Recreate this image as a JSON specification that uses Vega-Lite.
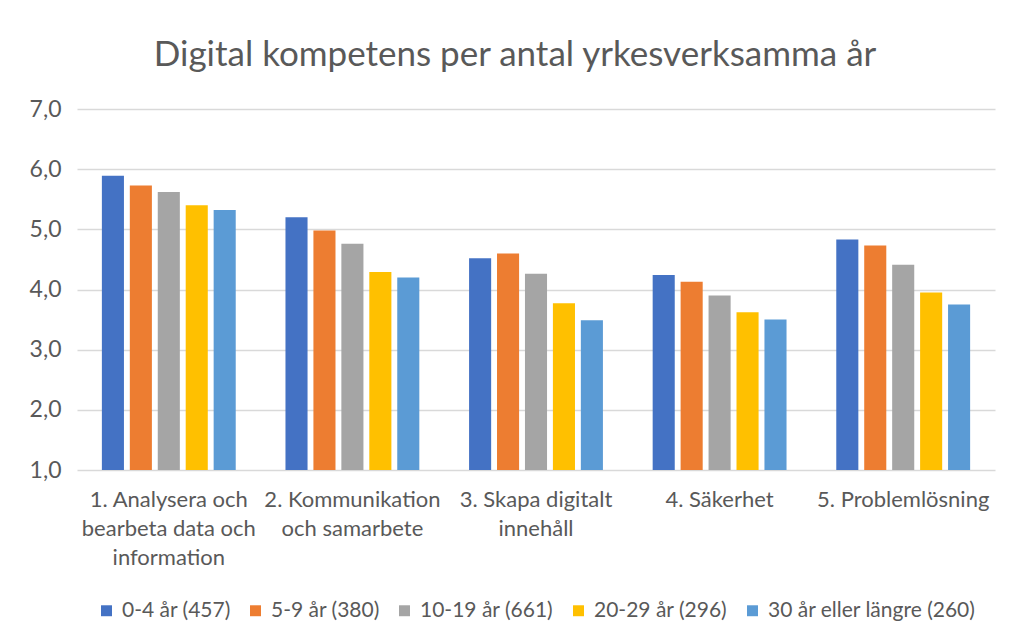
{
  "$schema": "https://vega.github.io/schema/vega-lite/v6.json",
  "width": 918,
  "height": 361,
  "autosize": "none",
  "padding": {"left": 77, "top": 109, "right": 14, "bottom": 174},
  "background": "white",
  "title": {
    "text": "Digital kompetens per antal yrkesverksamma år",
    "fontSize": 35,
    "font": "Lato",
    "fontWeight": "normal",
    "color": "#595959",
    "anchor": "middle",
    "offset": 25,
    "dx": -21
  },
  "data": {
    "values": [
      {"kompetens": "1. Analysera och bearbeta data och information", "grupp": "0-4 år (457)", "varde": 5.89},
      {"kompetens": "1. Analysera och bearbeta data och information", "grupp": "5-9 år (380)", "varde": 5.73},
      {"kompetens": "1. Analysera och bearbeta data och information", "grupp": "10-19 år (661)", "varde": 5.62},
      {"kompetens": "1. Analysera och bearbeta data och information", "grupp": "20-29 år (296)", "varde": 5.40},
      {"kompetens": "1. Analysera och bearbeta data och information", "grupp": "30 år eller längre (260)", "varde": 5.32},
      {"kompetens": "2. Kommunikation och samarbete", "grupp": "0-4 år (457)", "varde": 5.20},
      {"kompetens": "2. Kommunikation och samarbete", "grupp": "5-9 år (380)", "varde": 4.98},
      {"kompetens": "2. Kommunikation och samarbete", "grupp": "10-19 år (661)", "varde": 4.76},
      {"kompetens": "2. Kommunikation och samarbete", "grupp": "20-29 år (296)", "varde": 4.29},
      {"kompetens": "2. Kommunikation och samarbete", "grupp": "30 år eller längre (260)", "varde": 4.20},
      {"kompetens": "3. Skapa digitalt innehåll", "grupp": "0-4 år (457)", "varde": 4.52},
      {"kompetens": "3. Skapa digitalt innehåll", "grupp": "5-9 år (380)", "varde": 4.60},
      {"kompetens": "3. Skapa digitalt innehåll", "grupp": "10-19 år (661)", "varde": 4.26},
      {"kompetens": "3. Skapa digitalt innehåll", "grupp": "20-29 år (296)", "varde": 3.77},
      {"kompetens": "3. Skapa digitalt innehåll", "grupp": "30 år eller längre (260)", "varde": 3.49},
      {"kompetens": "4. Säkerhet", "grupp": "0-4 år (457)", "varde": 4.24},
      {"kompetens": "4. Säkerhet", "grupp": "5-9 år (380)", "varde": 4.13},
      {"kompetens": "4. Säkerhet", "grupp": "10-19 år (661)", "varde": 3.90},
      {"kompetens": "4. Säkerhet", "grupp": "20-29 år (296)", "varde": 3.62},
      {"kompetens": "4. Säkerhet", "grupp": "30 år eller längre (260)", "varde": 3.50},
      {"kompetens": "5. Problemlösning", "grupp": "0-4 år (457)", "varde": 4.83},
      {"kompetens": "5. Problemlösning", "grupp": "5-9 år (380)", "varde": 4.73},
      {"kompetens": "5. Problemlösning", "grupp": "10-19 år (661)", "varde": 4.41},
      {"kompetens": "5. Problemlösning", "grupp": "20-29 år (296)", "varde": 3.95},
      {"kompetens": "5. Problemlösning", "grupp": "30 år eller längre (260)", "varde": 3.75}
    ]
  },
  "mark": {"type": "bar", "clip": true},
  "encoding": {
    "x": {
      "field": "kompetens",
      "type": "nominal",
      "sort": null,
      "scale": {"paddingInner": 0, "paddingOuter": 0},
      "axis": {
        "title": null,
        "labelAngle": 0,
        "labelFont": "Lato",
        "labelFontSize": 22,
        "labelColor": "#595959",
        "labelPadding": 19,
        "labelLineHeight": 29,
        "labelBaseline": "top",
        "ticks": false,
        "domain": false,
        "labelExpr": "datum.label == '1. Analysera och bearbeta data och information' ? ['1. Analysera och', 'bearbeta data och', 'information'] : datum.label == '2. Kommunikation och samarbete' ? ['2. Kommunikation', 'och samarbete'] : datum.label == '3. Skapa digitalt innehåll' ? ['3. Skapa digitalt', 'innehåll'] : datum.label"
      }
    },
    "xOffset": {
      "field": "grupp",
      "type": "nominal",
      "sort": null,
      "scale": {"paddingInner": 0.21, "paddingOuter": 0.89}
    },
    "y": {
      "field": "varde",
      "type": "quantitative",
      "scale": {"domain": [1, 7], "nice": false, "zero": false},
      "axis": {
        "title": null,
        "values": [1, 2, 3, 4, 5, 6, 7],
        "labelExpr": "replace(format(datum.value, '.1f'), '.', ',')",
        "labelFont": "Lato",
        "labelFontSize": 23,
        "labelColor": "#595959",
        "labelPadding": 16,
        "ticks": false,
        "domain": false,
        "gridColor": "#d9d9d9",
        "gridWidth": 1.5
      }
    },
    "color": {
      "field": "grupp",
      "type": "nominal",
      "sort": null,
      "scale": {
        "domain": ["0-4 år (457)", "5-9 år (380)", "10-19 år (661)", "20-29 år (296)", "30 år eller längre (260)"],
        "range": ["#4472C4", "#ED7D31", "#A5A5A5", "#FFC000", "#5B9BD5"]
      },
      "legend": {
        "title": null,
        "orient": "bottom",
        "direction": "horizontal",
        "symbolType": "square",
        "symbolSize": 120,
        "symbolStrokeWidth": 0,
        "labelFont": "Lato",
        "labelFontSize": 21,
        "labelColor": "#595959",
        "labelLimit": 400,
        "labelOffset": 5,
        "columnPadding": 14,
        "offset": 32
      }
    }
  },
  "config": {
    "view": {"stroke": null},
    "legend": {"layout": {"bottom": {"anchor": "middle"}}}
  }
}
